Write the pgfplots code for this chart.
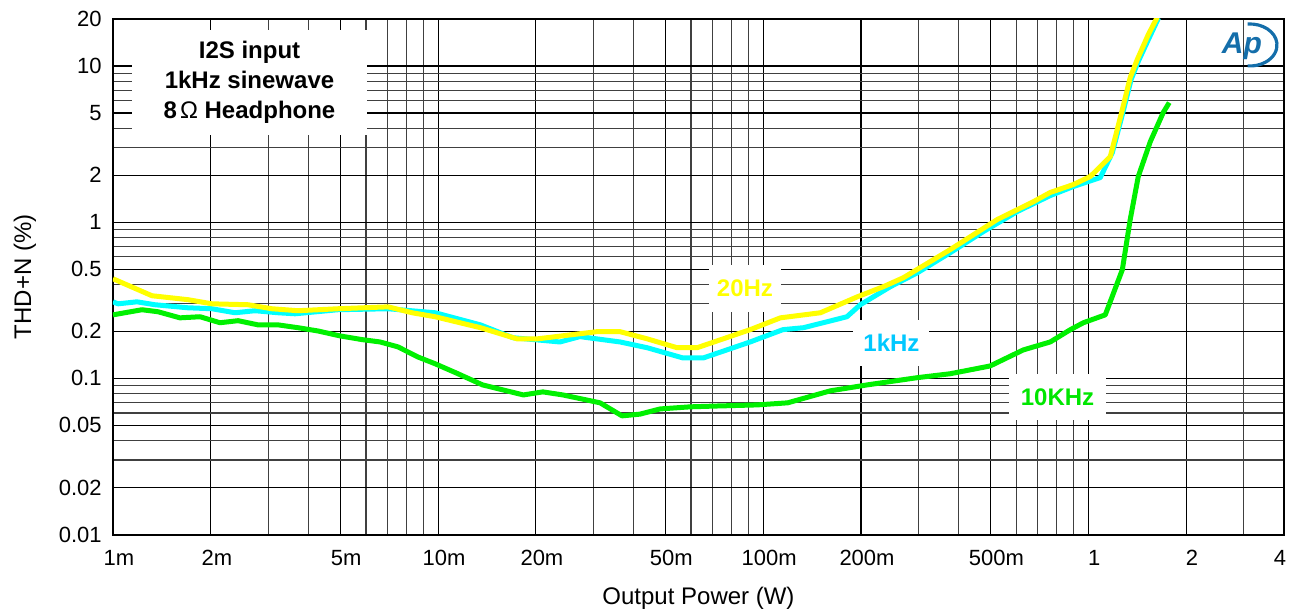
\documentclass[border=0pt]{standalone}
\usepackage{fontspec}
\setmainfont{Liberation Sans}
\usepackage{pgfplots}
\pgfplotsset{compat=1.18}
\definecolor{cyanline}{RGB}{0,255,255}
\definecolor{yellowline}{RGB}{255,255,0}
\definecolor{greenline}{RGB}{0,240,0}
\definecolor{lab1k}{RGB}{0,200,255}
\definecolor{lab10k}{RGB}{0,230,0}
\definecolor{apblue}{RGB}{20,110,170}
\begin{document}
\begin{tikzpicture}
\path[use as bounding box] (-56.5bp,-38.75bp) rectangle (591.5bp,267.25bp);
\begin{axis}[
  at={(0,0)}, anchor=south west,
  scale only axis, width=585.5bp, height=257.75bp,
  xmode=log, ymode=log,
  xmin=0.001, xmax=4, ymin=0.01, ymax=20,
  xtick={0.001,0.002,0.005,0.01,0.02,0.05,0.1,0.2,0.5,1,2,4},
  xticklabels={1m,2m,5m,10m,20m,50m,100m,200m,500m,1,2,\makebox[0pt][r]{4\hspace{2bp}}},
  minor xtick={0.003,0.004,0.006,0.007,0.008,0.009,0.03,0.04,0.06,0.07,0.08,0.09,0.3,0.4,0.6,0.7,0.8,0.9,3,4,6,7,8,9,30,40,60,70,80,90,300,400,600,700,800,900,3000},
  ytick={0.01,0.02,0.05,0.1,0.2,0.5,1,2,5,10,20},
  yticklabels={0.01,0.02,0.05,0.1,0.2,0.5,1,2,5,10,20},
  minor ytick={0.03,0.04,0.06,0.07,0.08,0.09,0.3,0.4,0.6,0.7,0.8,0.9,3,4,6,7,8,9},
  grid=both,
  major grid style={black, line width=0.55bp},
  minor grid style={black!75, line width=0.55bp},
  major tick length=0pt, minor tick length=0pt,
  axis line style={black, line width=1bp},
  tick label style={font=\fontsize{11bp}{13bp}\selectfont},
  xticklabel style={inner sep=0pt, yshift=-7.5bp, xshift=3bp},
  yticklabel style={inner sep=0pt, xshift=-5.5bp},
  xlabel={Output Power (W)}, ylabel={THD+N (\%)},
  label style={font=\fontsize{12bp}{14bp}\selectfont},
  xlabel style={at={(axis description cs:0.5,-0.123)}, anchor=center},
  ylabel style={at={(axis description cs:-0.0752,0.5)}, anchor=center},
]
% 10 kHz
\addplot[greenline, line width=2.5bp, line join=round, mark=none] coordinates {
(0.001,0.255) (0.001228,0.275) (0.001375,0.267) (0.001607,0.244) (0.001853,0.248)
(0.002134,0.227) (0.002425,0.234) (0.002793,0.220) (0.003219,0.220) (0.003707,0.211)
(0.004274,0.201) (0.00499,0.187) (0.00584,0.177) (0.00663,0.171) (0.00753,0.159)
(0.00867,0.137) (0.00979,0.124) (0.0114,0.108) (0.0137,0.0908) (0.0183,0.0783)
(0.0210,0.0819) (0.0242,0.0783) (0.0315,0.0697) (0.0368,0.0575) (0.0418,0.0590)
(0.0482,0.0637) (0.0596,0.0657) (0.0721,0.0665) (0.0959,0.0676) (0.119,0.0697)
(0.161,0.0832) (0.209,0.0908) (0.298,0.101) (0.376,0.107) (0.499,0.120)
(0.631,0.152) (0.764,0.171) (0.881,0.205) (0.966,0.227) (1.128,0.255)
(1.273,0.496) (1.346,1.04) (1.425,1.96) (1.552,3.28) (1.701,5.04) (1.775,5.83)
};
% 1 kHz
\addplot[cyanline, line width=2.5bp, line join=round, mark=none] coordinates {
(0.001,0.309) (0.001036,0.300) (0.001185,0.309) (0.001346,0.296) (0.0017,0.283)
(0.002017,0.279) (0.002373,0.263) (0.002735,0.271) (0.003219,0.263) (0.003631,0.259)
(0.00492,0.275) (0.00702,0.279) (0.00979,0.263) (0.0135,0.220) (0.0170,0.182)
(0.0237,0.171) (0.0273,0.185) (0.0363,0.171) (0.0440,0.157) (0.0567,0.135)
(0.0654,0.135) (0.0912,0.171) (0.115,0.205) (0.133,0.211) (0.153,0.227)
(0.181,0.248) (0.199,0.296) (0.246,0.386) (0.298,0.474) (0.376,0.637)
(0.475,0.869) (0.605,1.17) (0.764,1.48) (0.899,1.69) (1.089,1.93)
(1.186,2.79) (1.28,5.1) (1.355,8.2) (1.425,10.7) (1.55,15.6) (1.645,20.3)
};
% 20 Hz
\addplot[yellowline, line width=2.5bp, line join=round, mark=none] coordinates {
(0.001,0.434) (0.001318,0.338) (0.0017,0.319) (0.002017,0.300) (0.002602,0.296)
(0.003085,0.279) (0.003707,0.271) (0.00492,0.279) (0.00702,0.287) (0.00832,0.263)
(0.00979,0.248) (0.0135,0.211) (0.0175,0.179) (0.0202,0.179) (0.0308,0.199)
(0.0363,0.199) (0.0440,0.179) (0.0544,0.157) (0.0626,0.157) (0.0912,0.205)
(0.113,0.244) (0.150,0.263) (0.195,0.333) (0.234,0.386) (0.270,0.441)
(0.376,0.667) (0.525,1.04) (0.677,1.35) (0.764,1.55) (0.899,1.74)
(1.014,1.96) (1.169,2.63) (1.273,5.26) (1.346,8.44) (1.415,11.0)
(1.530,15.9) (1.630,20.5)
};
\node[fill=white, inner sep=0pt, minimum width=117.5bp, minimum height=52.5bp,
      align=center, font=\bfseries\fontsize{12bp}{15bp}\selectfont]
  at (rel axis cs:0.1166,0.8768)
  {I2S input\\1kHz sinewave\\8\hspace{1.5bp}{\mdseries Ω} Headphone};
\node[fill=white, inner xsep=4bp, inner ysep=0pt, minimum height=23.5bp, text=yellowline,
      font=\bfseries\fontsize{12bp}{14bp}\selectfont]
  at (rel axis cs:0.5397,0.4772) {20Hz};
\node[fill=white, inner xsep=5bp, inner ysep=0pt, minimum height=23bp, text=lab1k,
      font=\bfseries\fontsize{12bp}{14bp}\selectfont]
  at (rel axis cs:0.6648,0.3715) {1kHz};
\node[fill=white, inner xsep=6bp, inner ysep=0pt, minimum height=23bp, text=lab10k,
      font=\bfseries\fontsize{12bp}{14bp}\selectfont]
  at (rel axis cs:0.8066,0.2667) {10KHz};
\node[text=apblue, inner sep=0pt, font=\bfseries\itshape\fontsize{15bp}{15bp}\selectfont]
  at (rel axis cs:0.9641,0.9476) {Ap};
\draw[apblue, line width=1.6bp] (rel axis cs:0.9710,0.9496) ++(-1.18bp,10.46bp)
  arc[start angle=95, end angle=-95, x radius=13.5bp, y radius=10.5bp];
\end{axis}
\end{tikzpicture}
\end{document}
